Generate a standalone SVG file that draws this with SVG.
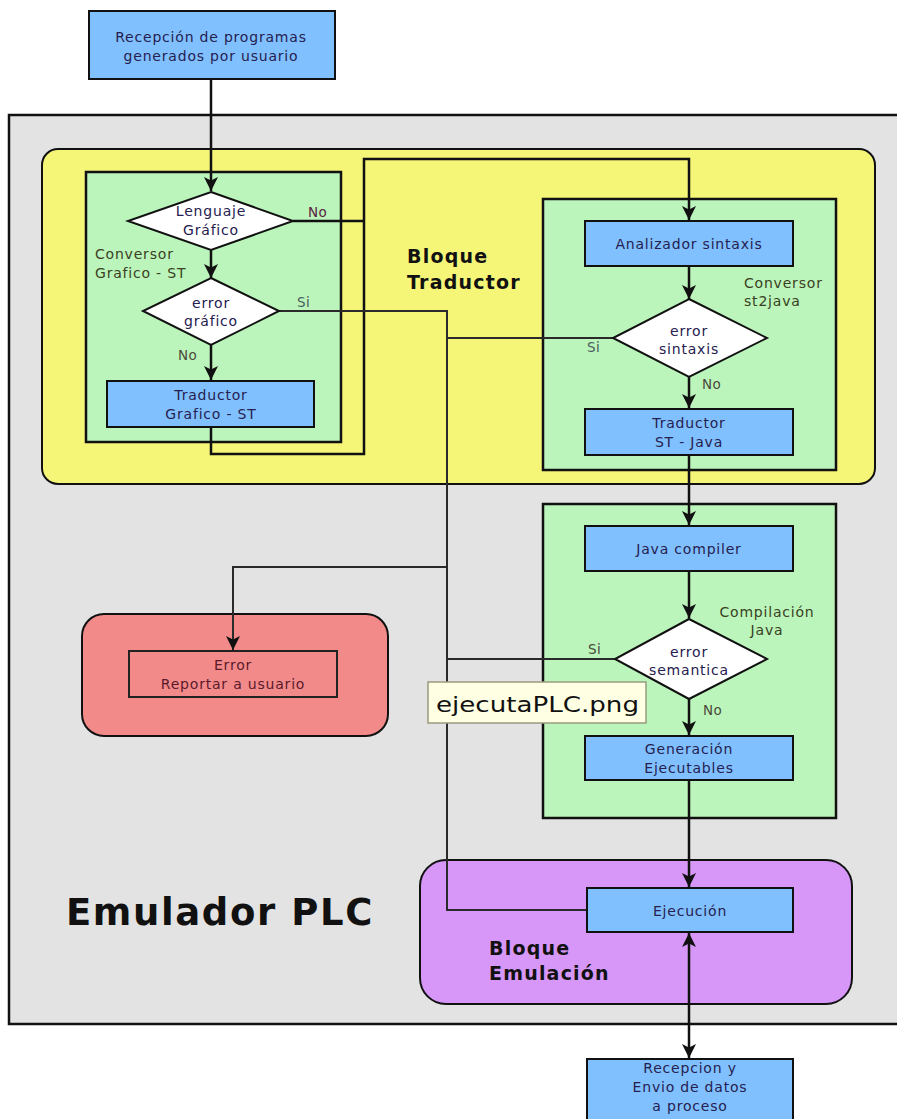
<svg xmlns="http://www.w3.org/2000/svg" width="897" height="1119" viewBox="0 0 897 1119">
  <defs>
    <style>
      .proc { fill: #80c0ff; stroke: #111; stroke-width: 2; }
      .dec { fill: #ffffff; stroke: #111; stroke-width: 2; }
      .sub { fill: #bbf5bb; stroke: #111; stroke-width: 2.5; }
      .t { font-family: "DejaVu Sans", Verdana, sans-serif; font-size: 14px; letter-spacing: 0.8px; fill: #262050; text-anchor: middle; }
      .lbl { font-family: "DejaVu Sans", Verdana, sans-serif; font-size: 14px; letter-spacing: 0.8px; fill: #3a4022; }
      .yn { font-family: "DejaVu Sans", Verdana, sans-serif; font-size: 13.5px; letter-spacing: 0.5px; fill: #4a4a3a; }
      .title { font-family: "DejaVu Sans", Verdana, sans-serif; font-weight: bold; font-size: 19px; letter-spacing: 1.2px; fill: #111; }
      .flow { fill: none; stroke: #111; stroke-width: 2.5; }
      .bus { fill: none; stroke: #2a2a2a; stroke-width: 2; }
    </style>
    <marker id="arrow" viewBox="0 0 14 14" refX="14" refY="7" markerWidth="14" markerHeight="14" markerUnits="userSpaceOnUse" orient="auto-start-reverse">
      <path d="M0,0 L14,7 L0,14 L3.5,7 Z" fill="#111"/>
    </marker>
  </defs>

  <!-- container: Emulador PLC -->
  <g id="emulador">
    <rect x="9" y="115" width="900" height="909" fill="#e3e3e3" stroke="#111" stroke-width="2.5"/>
    <text x="66" y="925" font-family="DejaVu Sans, Verdana, sans-serif" font-weight="bold" font-size="37" letter-spacing="1.6" fill="#111">Emulador PLC</text>
  </g>

  <!-- Bloque Traductor -->
  <g id="bloque-traductor">
    <rect x="42" y="149" width="833" height="335" rx="16" fill="#f5f578" stroke="#111" stroke-width="2"/>
    <text class="title" x="407" y="263">Bloque</text>
    <text class="title" x="407" y="289">Traductor</text>
  </g>

  <g id="conversor-grafico">
    <rect class="sub" x="86" y="172" width="255" height="270"/>
    <text class="lbl" x="95" y="259">Conversor</text>
    <text class="lbl" x="95" y="278">Grafico - ST</text>
  </g>

  <g id="conversor-st2java">
    <rect class="sub" x="543" y="199" width="293" height="271"/>
    <text class="lbl" x="744" y="288">Conversor</text>
    <text class="lbl" x="744" y="306">st2java</text>
  </g>

  <g id="compilacion-java">
    <rect class="sub" x="543" y="504" width="293" height="314"/>
    <text class="lbl" x="767" y="617" text-anchor="middle">Compilación</text>
    <text class="lbl" x="767" y="635" text-anchor="middle">Java</text>
  </g>

  <!-- Bloque Emulación -->
  <g id="bloque-emulacion">
    <rect x="420" y="860" width="432" height="144" rx="26" fill="#d797f8" stroke="#111" stroke-width="2"/>
    <text class="title" x="489" y="955">Bloque</text>
    <text class="title" x="489" y="980">Emulación</text>
  </g>

  <!-- Error group -->
  <g id="error">
    <rect x="82" y="614" width="306" height="122" rx="22" fill="#f28a8a" stroke="#111" stroke-width="2"/>
    <rect x="129" y="651" width="208" height="46" fill="#f28a8a" stroke="#222" stroke-width="2"/>
    <text class="t" x="233" y="670" style="fill:#5a1a2a">Error</text>
    <text class="t" x="233" y="689" style="fill:#5a1a2a">Reportar a usuario</text>
  </g>

  <!-- connectors -->
  <g id="connectors">
    <path class="flow" d="M211,79 V191" marker-end="url(#arrow)"/>
    <path class="flow" d="M211,250 V278" marker-end="url(#arrow)"/>
    <path class="flow" d="M211,345 V380" marker-end="url(#arrow)"/>
    <path class="flow" d="M293,221 H365"/>
    <path class="flow" d="M211,427 V454 H364 V159 H689 V220" marker-end="url(#arrow)"/>
    <path class="bus" d="M279,311 H447 V910 H587"/>
    <path class="bus" d="M447,567 H233 V650" marker-end="url(#arrow)"/>
    <path class="bus" d="M613,338 H447"/>
    <path class="bus" d="M615,659 H447"/>
    <path class="flow" d="M689,266 V299" marker-end="url(#arrow)"/>
    <path class="flow" d="M689,377 V408" marker-end="url(#arrow)"/>
    <path class="flow" d="M689,455 V525" marker-end="url(#arrow)"/>
    <path class="flow" d="M689,571 V618" marker-end="url(#arrow)"/>
    <path class="flow" d="M689,699 V735" marker-end="url(#arrow)"/>
    <path class="flow" d="M689,780 V887" marker-end="url(#arrow)"/>
    <path class="flow" d="M689,933 V1058" marker-start="url(#arrow)" marker-end="url(#arrow)"/>
    <text class="yn" x="308" y="217" style="fill:#5a2040">No</text>
    <text class="yn" x="297" y="307" style="fill:#4a6060">Si</text>
    <text class="yn" x="178" y="360">No</text>
    <text class="yn" x="587" y="352" style="fill:#4a6060">Si</text>
    <text class="yn" x="702" y="389">No</text>
    <text class="yn" x="588" y="654">Si</text>
    <text class="yn" x="703" y="715">No</text>
  </g>

  <!-- nodes -->
  <g id="recepcion-programas">
    <rect class="proc" x="89" y="11" width="246" height="68" stroke-width="3"/>
    <text class="t" x="211" y="42">Recepción de programas</text>
    <text class="t" x="211" y="61">generados por usuario</text>
  </g>

  <g id="lenguaje-grafico">
    <polygon class="dec" points="211,192 293,221 211,250 128,221"/>
    <text class="t" x="211" y="216">Lenguaje</text>
    <text class="t" x="211" y="235">Gráfico</text>
  </g>

  <g id="error-grafico">
    <polygon class="dec" points="211,278 279,311 211,345 143,311"/>
    <text class="t" x="211" y="308">error</text>
    <text class="t" x="211" y="326">gráfico</text>
  </g>

  <g id="traductor-grafico-st">
    <rect class="proc" x="107" y="381" width="207" height="46"/>
    <text class="t" x="211" y="400">Traductor</text>
    <text class="t" x="211" y="419">Grafico - ST</text>
  </g>

  <g id="analizador-sintaxis">
    <rect class="proc" x="585" y="221" width="208" height="45"/>
    <text class="t" x="689" y="249">Analizador sintaxis</text>
  </g>

  <g id="error-sintaxis">
    <polygon class="dec" points="689,299 767,338 689,377 613,338"/>
    <text class="t" x="689" y="336">error</text>
    <text class="t" x="689" y="354">sintaxis</text>
  </g>

  <g id="traductor-st-java">
    <rect class="proc" x="585" y="409" width="208" height="46"/>
    <text class="t" x="689" y="428">Traductor</text>
    <text class="t" x="689" y="447">ST - Java</text>
  </g>

  <g id="java-compiler">
    <rect class="proc" x="585" y="526" width="208" height="45"/>
    <text class="t" x="689" y="554">Java compiler</text>
  </g>

  <g id="error-semantica">
    <polygon class="dec" points="689,619 767,659 689,699 615,659"/>
    <text class="t" x="689" y="657">error</text>
    <text class="t" x="689" y="675">semantica</text>
  </g>

  <g id="generacion-ejecutables">
    <rect class="proc" x="585" y="736" width="208" height="44"/>
    <text class="t" x="689" y="754">Generación</text>
    <text class="t" x="689" y="773">Ejecutables</text>
  </g>

  <g id="ejecucion">
    <rect class="proc" x="587" y="888" width="206" height="44"/>
    <text class="t" x="690" y="916">Ejecución</text>
  </g>

  <g id="recepcion-envio">
    <rect class="proc" x="587" y="1059" width="206" height="70"/>
    <text class="t" x="690" y="1073">Recepcion y</text>
    <text class="t" x="690" y="1092">Envio de datos</text>
    <text class="t" x="690" y="1111">a proceso</text>
  </g>

  <!-- file-name tag -->
  <g id="tag">
    <rect x="428" y="682" width="218" height="41" fill="#ffffe3" stroke="#9a9a80" stroke-width="1.5"/>
    <text x="436" y="712" font-family="DejaVu Sans, Verdana, sans-serif" font-size="22" textLength="203" lengthAdjust="spacingAndGlyphs" fill="#111">ejecutaPLC.png</text>
  </g>
</svg>
